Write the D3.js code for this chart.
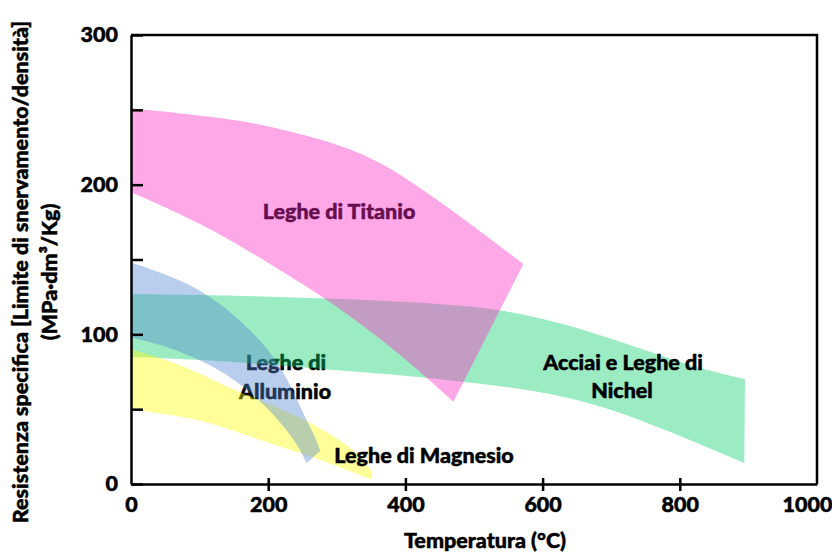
<!DOCTYPE html>
<html>
<head>
<meta charset="utf-8">
<script src="https://cdn.jsdelivr.net/npm/d3@7"></script>
<style>
  body { margin: 0; background: #fff; }
  text { font-family: Lato, "Open Sans", sans-serif; font-weight: 900; stroke: currentColor; stroke-width: 0.5px; }
</style>
</head>
<body>
<div id="chart"></div>
<script>
// band edges, [temperatura, resistenza]
var titanioTop = [[0,251],[150,244],[220,237],[295,228],[345,219],[390,208],[465,184],[572,147]];
var titanioBottom = [[0,195],[100,175],[200,148],[295,121],[390,88],[470,55]];

var nichelTop = [[0,127],[150,126],[295,124],[441,121],[538,117],[635,107],[732,92],[829,77],[895,70]];
var nichelBottom = [[0,85],[149,82],[295,76],[392,73],[489,68],[586,63],[684,53],[781,36],[894,14]];

var alluminioTop = [[0,148],[52,140],[101,130],[149,114],[198,92],[229,70],[251,47],[268,32],[276,22]];
var alluminioBottom = [[0,98],[52,92],[101,83],[149,71],[198,52],[227,36],[244,25],[256,14]];

var magnesioTop = [[0,90],[52,83],[101,74],[144,64],[193,55],[241,46],[290,34],[339,18],[352,7]];
var magnesioBottom = [[0,50],[52,46.5],[101,43],[144,36.5],[193,28.5],[241,21.6],[290,14],[350,3]];

var xTicks = [0,200,400,600,800,1000];
var yTicks = [0,50,100,150,200,250,300];

function init()
{
    const width = 832;
    const height = 555;
    const left = 131, right = 817, top = 35, bottom = 484;
    const fs = 21.5;

    var x = d3.scaleLinear().domain([0,1000]).range([left,right]);
    var y = d3.scaleLinear().domain([0,300]).range([bottom,top]);

    var svg = d3.select("#chart")
        .append("svg")
        .attr("width", width)
        .attr("height", height)
        .style("color", "#000");

    var line = d3.line()
        .x(function(d){ return x(d[0]); })
        .y(function(d){ return y(d[1]); })
        .curve(d3.curveBasis);

    function band(upper, lower) {
        return line(upper) + "L" + line(lower.slice().reverse()).slice(1) + "Z";
    }

    // labels that sit under the translucent bands
    var under = svg.append("g").attr("font-size", fs).attr("text-anchor", "middle");
    under.append("text").attr("x", 339).attr("y", 219).text("Leghe di Titanio");
    under.append("text").attr("x", 286).attr("y", 370).text("Leghe di");
    under.append("text").attr("x", 285).attr("y", 399).text("Alluminio");

    var bands = [
        {up: nichelTop, low: nichelBottom, color: "#05cd69"},
        {up: magnesioTop, low: magnesioBottom, color: "#ffff00"},
        {up: alluminioTop, low: alluminioBottom, color: "#4d84cf"},
        {up: titanioTop, low: titanioBottom, color: "#ff26c6"}
    ];

    svg.selectAll("path.band")
        .data(bands)
        .enter()
        .append("path")
        .attr("class", "band")
        .attr("d", function(d){ return band(d.up, d.low); })
        .attr("fill", function(d){ return d.color; })
        .attr("fill-opacity", 0.4);

    var over = svg.append("g").attr("font-size", fs).attr("text-anchor", "middle");
    over.append("text").attr("x", 623).attr("y", 370).text("Acciai e Leghe di");
    over.append("text").attr("x", 622).attr("y", 398).text("Nichel");
    over.append("text").attr("x", 424).attr("y", 463).text("Leghe di Magnesio");

    // axes
    var gy = svg.append("g")
        .attr("transform", "translate(" + left + ",0)")
        .call(d3.axisLeft(y).tickValues(yTicks).tickSizeInner(-12).tickSizeOuter(0).tickPadding(13)
            .tickFormat(function(d){ return d % 100 === 0 ? d : ""; }));

    var gx = svg.append("g")
        .attr("transform", "translate(0," + bottom + ")")
        .call(d3.axisBottom(x).tickValues(xTicks).tickSize(0).tickPadding(13)
            .tickFormat(d3.format("d")));

    gx.selectAll(".tick line")
        .attr("y1", function(d){ return (d > 0 && d < 1000) ? -6 : 0; })
        .attr("y2", function(d){ return (d > 0 && d < 1000) ? 7 : 0; });
    gx.selectAll(".tick text").filter(function(d){ return d === 1000; }).attr("dx", -10);

    svg.selectAll(".domain").attr("stroke-width", 2.5);
    svg.selectAll(".tick line").attr("stroke-width", 2.5);
    svg.selectAll(".tick text")
        .attr("font-size", fs)
        .attr("font-family", "Lato, sans-serif")
        .attr("fill", "#000");

    // frame top and right
    svg.append("path")
        .attr("d", "M" + left + "," + y(300) + "H" + x(1000) + "V" + y(0))
        .attr("fill", "none")
        .attr("stroke", "#000")
        .attr("stroke-width", 2.5);

    svg.append("text")
        .attr("x", 485).attr("y", 548)
        .attr("text-anchor", "middle")
        .attr("font-size", fs)
        .text("Temperatura (°C)");

    var ytitle = svg.append("g")
        .attr("transform", "translate(0,272) rotate(-90)")
        .attr("text-anchor", "middle")
        .attr("font-size", fs);
    ytitle.append("text").attr("x", 0).attr("y", 28)
        .text("Resistenza specifica [Limite di snervamento/densità]");
    ytitle.append("text").attr("x", 0).attr("y", 57)
        .text("(MPa·dm³/Kg)");
}

init();
</script>
</body>
</html>
